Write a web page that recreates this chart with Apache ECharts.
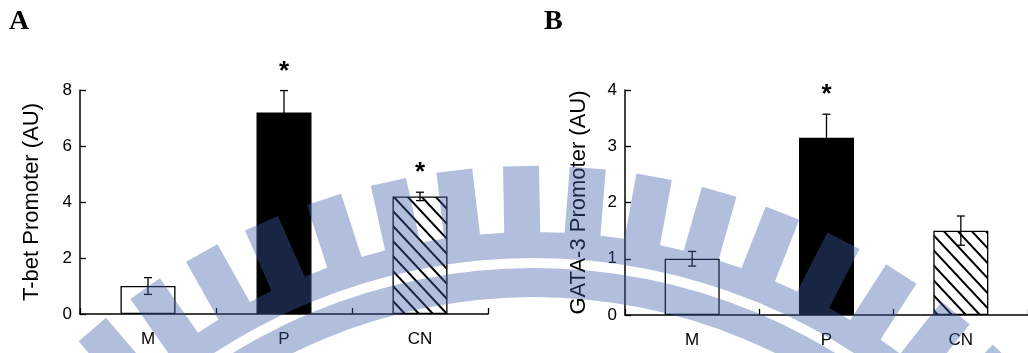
<!DOCTYPE html>
<html>
<head>
<meta charset="utf-8">
<script src="https://cdn.jsdelivr.net/npm/echarts@6/dist/echarts.min.js"></script>
<style>
html,body{margin:0;padding:0;background:#fff;}
#main{width:1028px;height:353px;}
</style>
</head>
<body>
<div id="main"></div>
<script>
// 数据
var categories = ['M', 'P', 'CN'];
var tbetMean = [1.0, 7.2, 4.2];
var tbetErr = [0.3, 0.78, 0.15];
var tbetSig = ['', '*', '*'];
var gataMean = [1.0, 3.15, 1.5];
var gataErr = [0.13, 0.42, 0.26];
var gataSig = ['', '*', ''];

var FONT = 'Liberation Sans, Arial, sans-serif';

// 斜线填充
function makeHatch(){
	var c = document.createElement('canvas');
	c.width = 14; c.height = 15;
	var ctx = c.getContext('2d');
	ctx.fillStyle = '#fff';
	ctx.fillRect(0, 0, 14, 15);
	ctx.strokeStyle = '#000';
	ctx.lineWidth = 2;
	ctx.beginPath();
	ctx.moveTo(-14, -15); ctx.lineTo(28, 30);
	ctx.moveTo(-14, 0); ctx.lineTo(14, 30);
	ctx.moveTo(0, -15); ctx.lineTo(28, 15);
	ctx.stroke();
	return c;
}

// 水印 (背景logo), 同心圆环 + 齿
function makeWatermark(w, h){
	var c = document.createElement('canvas');
	c.width = w; c.height = h;
	var ctx = c.getContext('2d');
	ctx.fillStyle = 'rgb(62,96,170)';
	var cx = 534, cy = 844;
	// 外环
	ctx.beginPath();
	ctx.arc(cx, cy, 612, 0, Math.PI * 2);
	ctx.arc(cx, cy, 586, 0, Math.PI * 2);
	ctx.fill('evenodd');
	// 内环
	ctx.beginPath();
	ctx.arc(cx, cy, 576, 0, Math.PI * 2);
	ctx.arc(cx, cy, 547, 0, Math.PI * 2);
	ctx.fill('evenodd');
	// 齿
	for(var k = -8; k <= 8; k++){
		var t = (-1.1 + 5.65 * k) * Math.PI / 180;
		var ux = Math.sin(t), uy = -Math.cos(t);
		var nx = Math.cos(t), ny = Math.sin(t);
		var rIn = 605, rOut = 678, hw = 18;
		ctx.beginPath();
		ctx.moveTo(cx + rIn * ux - hw * nx, cy + rIn * uy - hw * ny);
		ctx.lineTo(cx + rOut * ux - hw * nx, cy + rOut * uy - hw * ny);
		ctx.lineTo(cx + rOut * ux + hw * nx, cy + rOut * uy + hw * ny);
		ctx.lineTo(cx + rIn * ux + hw * nx, cy + rIn * uy + hw * ny);
		ctx.closePath();
		ctx.fill();
	}
	return c;
}

var hatch = makeHatch();
var fills = ['#fff', '#000', {image: hatch, repeat: 'repeat'}];

function barData(means){
	var list = [];
	for(var i = 0; i < means.length; i++){
		list.push({value: means[i], itemStyle: {color: fills[i], borderColor: '#000', borderWidth: 1.3}});
	}
	return list;
}

function errData(means, errs){
	var list = [];
	for(var i = 0; i < means.length; i++){
		list.push([i, means[i], errs[i]]);
	}
	return list;
}

function errRender(sig){
	return function(params, api){
		var x = api.value(0), m = api.value(1), e = api.value(2);
		var top = api.coord([x, m + e]);
		var bot = api.coord([x, m - e]);
		var hw = 4;
		var st = {stroke: '#000', lineWidth: 1.3};
		var children = [
			{type: 'line', shape: {x1: top[0], y1: top[1], x2: bot[0], y2: bot[1]}, style: st},
			{type: 'line', shape: {x1: top[0] - hw, y1: top[1], x2: top[0] + hw, y2: top[1]}, style: st},
			{type: 'line', shape: {x1: bot[0] - hw, y1: bot[1], x2: bot[0] + hw, y2: bot[1]}, style: st}
		];
		if(sig[params.dataIndex]){
			children.push({type: 'text', x: top[0], y: top[1] - 19, style: {
				text: sig[params.dataIndex], fill: '#000', font: 'bold 26px ' + FONT,
				align: 'center', verticalAlign: 'middle'}});
		}
		return {type: 'group', children: children};
	};
}

function yAxisOf(idx, name, max, interval, gap){
	return {
		type: 'value', gridIndex: idx, min: 0, max: max, interval: interval,
		name: name, nameLocation: 'middle', nameGap: gap, nameRotate: 90,
		nameTextStyle: {fontFamily: FONT, fontSize: 22, color: '#000'},
		axisLine: {show: true, lineStyle: {color: '#000', width: 1.5}},
		axisTick: {show: true, inside: true, length: 6, lineStyle: {color: '#000', width: 1.3}},
		axisLabel: {fontFamily: FONT, fontSize: 17, color: '#000', margin: 8},
		splitLine: {show: false}
	};
}

function xAxisOf(idx){
	return {
		type: 'category', gridIndex: idx, data: categories,
		axisLine: {show: true, lineStyle: {color: '#000', width: 1.5}},
		axisTick: {show: true, inside: true, length: 6, interval: 0, lineStyle: {color: '#000', width: 1.3}},
		axisLabel: {fontFamily: FONT, fontSize: 17, color: '#000', margin: 17}
	};
}

var chart = echarts.init(document.getElementById('main'), null, {renderer: 'canvas'});
var option = {
	backgroundColor: '#fff',
	animation: false,
	grid: [
		{left: 80, top: 90, width: 408, height: 224},
		{left: 625, top: 90, width: 408, height: 225}
	],
	xAxis: [xAxisOf(0), xAxisOf(1)],
	yAxis: [
		yAxisOf(0, 'T-bet Promoter (AU)', 8, 2, 37),
		yAxisOf(1, 'GATA-3 Promoter (AU)', 4, 1, 35)
	],
	series: [
		{type: 'bar', xAxisIndex: 0, yAxisIndex: 0, barWidth: 55, data: barData(tbetMean)},
		{type: 'custom', xAxisIndex: 0, yAxisIndex: 0, renderItem: errRender(tbetSig),
			encode: {x: 0, y: 1}, data: errData(tbetMean, tbetErr), z: 3},
		{type: 'bar', xAxisIndex: 1, yAxisIndex: 1, barWidth: 55, data: barData(gataMean)},
		{type: 'custom', xAxisIndex: 1, yAxisIndex: 1, renderItem: errRender(gataSig),
			encode: {x: 0, y: 1}, data: errData(gataMean, gataErr), z: 3}
	],
	graphic: [
		{type: 'text', left: 9, top: 8, style: {text: 'A', font: 'bold 28px Liberation Serif, Times New Roman, serif', fill: '#000'}},
		{type: 'text', left: 544, top: 8, style: {text: 'B', font: 'bold 28px Liberation Serif, Times New Roman, serif', fill: '#000'}},
		{type: 'image', left: 0, top: 0, z: 100, silent: true,
			style: {image: makeWatermark(1028, 353), width: 1028, height: 353, opacity: 0.4}}
	]
};
chart.setOption(option);
</script>
</body>
</html>
